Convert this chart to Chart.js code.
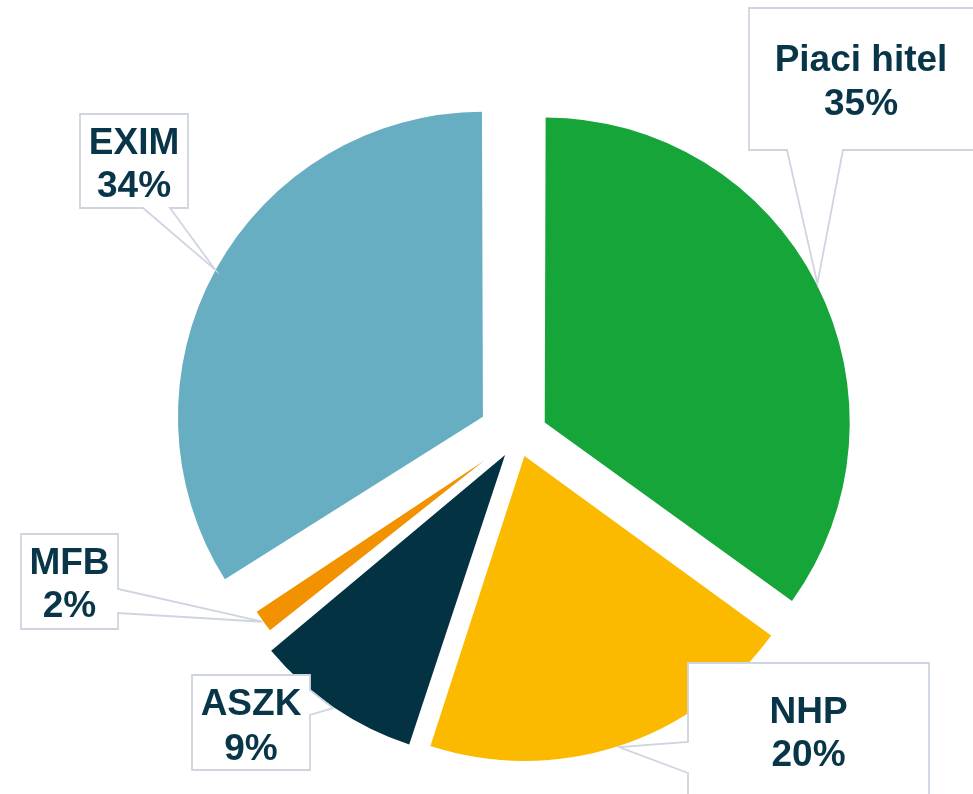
<!DOCTYPE html>
<html><head><meta charset="utf-8">
<script src="https://cdn.jsdelivr.net/npm/chart.js@4.4.1/dist/chart.umd.min.js"></script>
<style>html,body{margin:0;padding:0;background:#fff;overflow:hidden}#wrap{width:973px;height:794px}</style>
</head><body><div id="wrap"><canvas id="c" width="973" height="794"></canvas></div>
<script>
// ---- data ----
const categories = ['Piaci hitel', 'NHP', 'ASZK', 'MFB', 'EXIM'];
const shares = [35, 20, 9, 2, 34];
const valueLabels = ['35%', '20%', '9%', '2%', '34%'];

// ---- style ----
const sliceColors = ['#15A539', '#FBBA00', '#033243', '#F39200', '#67AEC3'];
const explodePx = [30, 21, 23, 42, 40];
const radiusPx = [305, 305, 305, 273, 305];
const textColor = '#083547';
const boxBorder = '#CED5E0';
const calloutLayout = [
  {box: [749, 8, 232, 142], side: 'bottom', base: [787, 843], lines: [71, 115], textX: 861},
  {box: [688, 663, 241, 170], side: 'left', base: [742, 773], lines: [723, 766]},
  {box: [192, 675, 118, 95], side: 'right', base: [690, 715], lines: [715, 760]},
  {box: [21, 534, 97, 95], side: 'right', base: [589, 613], lines: [574, 617]},
  {box: [80, 114, 108, 94], side: 'bottom', base: [143, 170], lines: [154, 197]}
];

const explodeFix = {
  id: 'explodeFix',
  beforeDatasetDraw(chart, args) {
    args.meta.data.forEach((arc, i) => {
      const fix = 1 - Math.sin(Math.min(Math.PI, arc.circumference));
      arc.outerRadius = radiusPx[i] - explodePx[i] * fix;
    });
  }
};

const callouts = {
  id: 'callouts',
  afterDraw(chart) {
    const ctx = chart.ctx;
    const meta = chart.getDatasetMeta(0);
    ctx.save();
    meta.data.forEach((arc, i) => {
      const L = calloutLayout[i];
      const half = (arc.startAngle + arc.endAngle) / 2;
      const d = explodePx[i] + radiusPx[i] + 1;
      const tx = arc.x + Math.cos(half) * d;
      const ty = arc.y + Math.sin(half) * d;
      const [x, y, w, h] = L.box;
      const [b1, b2] = L.base;
      ctx.beginPath();
      if (L.side === 'bottom') {
        ctx.moveTo(x, y); ctx.lineTo(x + w, y); ctx.lineTo(x + w, y + h);
        ctx.lineTo(b2, y + h); ctx.lineTo(tx, ty); ctx.lineTo(b1, y + h);
        ctx.lineTo(x, y + h);
      } else if (L.side === 'right') {
        ctx.moveTo(x, y); ctx.lineTo(x + w, y); ctx.lineTo(x + w, b1);
        ctx.lineTo(tx, ty); ctx.lineTo(x + w, b2); ctx.lineTo(x + w, y + h);
        ctx.lineTo(x, y + h);
      } else {
        ctx.moveTo(x, y); ctx.lineTo(x + w, y); ctx.lineTo(x + w, y + h);
        ctx.lineTo(x, y + h); ctx.lineTo(x, b2); ctx.lineTo(tx, ty);
        ctx.lineTo(x, b1);
      }
      ctx.closePath();
      ctx.fillStyle = '#ffffff';
      ctx.fill();
      ctx.lineWidth = 1.8;
      ctx.strokeStyle = boxBorder;
      ctx.stroke();
      ctx.fillStyle = textColor;
      ctx.font = 'bold 37px "Liberation Sans", Arial, sans-serif';
      ctx.textAlign = 'center';
      ctx.textBaseline = 'alphabetic';
      const cx = L.textX !== undefined ? L.textX : x + w / 2;
      ctx.fillText(categories[i], cx, L.lines[0]);
      ctx.fillText(valueLabels[i], cx, L.lines[1]);
    });
    ctx.restore();
  }
};

new Chart(document.getElementById('c'), {
  type: 'pie',
  data: {
    labels: categories,
    datasets: [{
      data: shares,
      backgroundColor: sliceColors,
      borderWidth: 0,
      offset: explodePx.map(v => v * 4)
    }]
  },
  options: {
    responsive: false,
    animation: false,
    events: [],
    radius: 305,
    layout: {padding: {left: 63, right: 0, top: 78, bottom: 0}},
    plugins: {legend: {display: false}, tooltip: {enabled: false}}
  },
  plugins: [explodeFix, callouts]
});
</script>
</body></html>
